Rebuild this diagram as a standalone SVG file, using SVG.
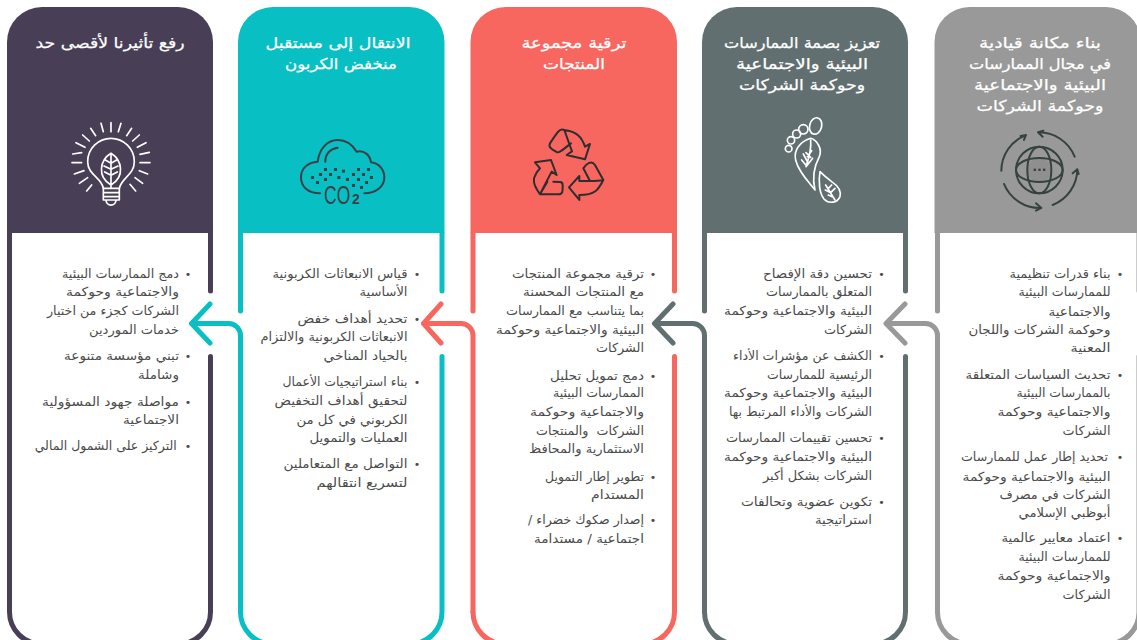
<svg xmlns="http://www.w3.org/2000/svg" width="1137" height="640" viewBox="0 0 1137 640">
<style>
text{font-family:"DejaVu Sans","Noto Sans",sans-serif;direction:rtl;unicode-bidi:embed}
.h{font-size:15px;fill:#fff;stroke:#fff;stroke-width:.25;text-anchor:middle;font-weight:400}
.b{font-size:12.5px;fill:#4b4b4b;text-anchor:start}
.d{font-size:11px;fill:#4b4b4b;text-anchor:middle}
.e{fill:none;stroke-width:5;stroke-linecap:round;stroke-linejoin:round}
.i{fill:none;stroke-width:6;stroke-linecap:round;stroke-linejoin:round}
</style>
<rect width="1137" height="640" fill="#fff"/>

<g id="card-1">
<path d="M934.5 233V42A35 35 0 0 1 969.5 7H1106A35 35 0 0 1 1141 42V233Z" fill="#999"/>
<path class="e" stroke="#999" d="M937.5 233V311M1139 233V291M1139 356.5V612A32 32 0 0 1 1107 644H969.5A32 32 0 0 1 937.5 612"/>
<text class="h" x="1040" y="48" textLength="122" lengthAdjust="spacingAndGlyphs">بناء مكانة قيادية</text>
<text class="h" x="1040" y="69" textLength="142" lengthAdjust="spacingAndGlyphs">في مجال الممارسات</text>
<text class="h" x="1040" y="90" textLength="132" lengthAdjust="spacingAndGlyphs">البيئية والاجتماعية</text>
<text class="h" x="1040" y="111" textLength="127" lengthAdjust="spacingAndGlyphs">وحوكمة الشركات</text>
<g transform="translate(930 0) scale(.3333)" stroke="#36423f" class="i">
<ellipse cx="328" cy="510" rx="36" ry="36" fill="#8f8f8f" stroke="none"/>
<circle cx="328" cy="510" r="70"/>
<ellipse cx="328" cy="510" rx="36" ry="70"/>
<ellipse cx="328" cy="510" rx="70" ry="36"/>
<path d="M214 512A116 116 0 0 1 288 405M272 408L288 405L282 420M324 397A116 116 0 0 1 434 470M324 397L340 392M324 397L338 410M442 508A116 116 0 0 1 368 615M442 508L428 520M442 508L446 522M334 624A116 116 0 0 1 222 552M334 624L318 632M334 624L318 610"/>
<g fill="#36423f" stroke="none"><rect x="311" y="506" width="7" height="7"/><rect x="325" y="506" width="7" height="7"/><rect x="339" y="506" width="7" height="7"/></g>
</g>
<text class="d" x="1120" y="278">•</text><text class="d" x="1120" y="379">•</text><text class="d" x="1120" y="461">•</text><text class="d" x="1120" y="542">•</text>
<text class="b" x="1110.5" y="278" textLength="101" lengthAdjust="spacingAndGlyphs">بناء قدرات تنظيمية</text>
<text class="b" x="1110.5" y="296" textLength="92" lengthAdjust="spacingAndGlyphs">للممارسات البيئية</text>
<text class="b" x="1110.5" y="315.5" textLength="62" lengthAdjust="spacingAndGlyphs">والاجتماعية</text>
<text class="b" x="1110.5" y="334" textLength="142" lengthAdjust="spacingAndGlyphs">وحوكمة الشركات واللجان</text>
<text class="b" x="1110.5" y="352" textLength="40" lengthAdjust="spacingAndGlyphs">المعنية</text>
<text class="b" x="1110.5" y="379" textLength="145" lengthAdjust="spacingAndGlyphs">تحديث السياسات المتعلقة</text>
<text class="b" x="1110.5" y="397" textLength="94" lengthAdjust="spacingAndGlyphs">بالممارسات البيئية</text>
<text class="b" x="1110.5" y="416" textLength="113" lengthAdjust="spacingAndGlyphs">والاجتماعية وحوكمة</text>
<text class="b" x="1110.5" y="435" textLength="48" lengthAdjust="spacingAndGlyphs">الشركات</text>
<text class="b" x="1108" y="461" textLength="147" lengthAdjust="spacingAndGlyphs">تحديد إطار عمل للممارسات</text>
<text class="b" x="1110.5" y="481" textLength="148" lengthAdjust="spacingAndGlyphs">البيئية والاجتماعية وحوكمة</text>
<text class="b" x="1110.5" y="499" textLength="111" lengthAdjust="spacingAndGlyphs">الشركات في مصرف</text>
<text class="b" x="1110.5" y="517" textLength="92" lengthAdjust="spacingAndGlyphs">أبوظبي الإسلامي</text>
<text class="b" x="1110.5" y="542" textLength="109" lengthAdjust="spacingAndGlyphs">اعتماد معايير عالمية</text>
<text class="b" x="1110.5" y="561" textLength="92" lengthAdjust="spacingAndGlyphs">للممارسات البيئية</text>
<text class="b" x="1110.5" y="580" textLength="113" lengthAdjust="spacingAndGlyphs">والاجتماعية وحوكمة</text>
<text class="b" x="1110.5" y="599" textLength="48" lengthAdjust="spacingAndGlyphs">الشركات</text>
</g>

<g id="card-2">
<path d="M702 233V42A35 35 0 0 1 737 7H873A35 35 0 0 1 908 42V233Z" fill="#616f70"/>
<path class="e" stroke="#616f70" d="M704.5 233V311M905.5 233V291M905.5 356.5V612A32 32 0 0 1 873.5 644H736.5A32 32 0 0 1 704.5 612"/>
<text class="h" x="802" y="48" textLength="156" lengthAdjust="spacingAndGlyphs">تعزيز بصمة الممارسات</text>
<text class="h" x="802" y="69" textLength="132" lengthAdjust="spacingAndGlyphs">البيئية والاجتماعية</text>
<text class="h" x="802" y="90" textLength="126" lengthAdjust="spacingAndGlyphs">وحوكمة الشركات</text>
<g transform="translate(700 0) scale(.3333)" stroke="#fff" class="i" style="stroke-width:5">
<ellipse cx="347" cy="378" rx="18" ry="25" transform="rotate(15 347 378)"/>
<circle cx="310" cy="388" r="14"/><circle cx="290" cy="402" r="12"/><circle cx="273" cy="421" r="11"/><circle cx="266" cy="446" r="10"/>
<path d="M332 415C300 425 280 450 287 480C295 515 325 545 345 570C335 530 345 495 358 470C368 445 350 420 332 415Z"/>
<path d="M332 420C335 450 325 480 318 500M318 458L332 472M310 462L325 490M335 452L322 470M305 480L320 498M338 475L320 498"/>
<path d="M360 515C355 545 358 580 372 597C385 612 412 610 420 590C425 570 410 555 395 545C382 535 370 525 360 515Z"/>
<path d="M377 555L405 600M385 565L395 555M392 578L405 565M376 570L392 578M385 585L400 592"/>
</g>
<text class="d" x="881.5" y="278">•</text><text class="d" x="881.5" y="360">•</text><text class="d" x="881.5" y="442">•</text><text class="d" x="881.5" y="506">•</text>
<text class="b" x="872" y="278" textLength="109" lengthAdjust="spacingAndGlyphs">تحسين دقة الإفصاح</text>
<text class="b" x="872" y="296" textLength="106" lengthAdjust="spacingAndGlyphs">المتعلق بالممارسات</text>
<text class="b" x="872" y="315" textLength="148" lengthAdjust="spacingAndGlyphs">البيئية والاجتماعية وحوكمة</text>
<text class="b" x="872" y="334" textLength="48" lengthAdjust="spacingAndGlyphs">الشركات</text>
<text class="b" x="872" y="360" textLength="139" lengthAdjust="spacingAndGlyphs">الكشف عن مؤشرات الأداء</text>
<text class="b" x="872" y="379" textLength="105" lengthAdjust="spacingAndGlyphs">الرئيسية للممارسات</text>
<text class="b" x="872" y="397" textLength="148" lengthAdjust="spacingAndGlyphs">البيئية والاجتماعية وحوكمة</text>
<text class="b" x="872" y="416" textLength="143" lengthAdjust="spacingAndGlyphs">الشركات والأداء المرتبط بها</text>
<text class="b" x="872" y="442" textLength="146" lengthAdjust="spacingAndGlyphs">تحسين تقييمات الممارسات</text>
<text class="b" x="872" y="461" textLength="148" lengthAdjust="spacingAndGlyphs">البيئية والاجتماعية وحوكمة</text>
<text class="b" x="872" y="480" textLength="109" lengthAdjust="spacingAndGlyphs">الشركات بشكل أكبر</text>
<text class="b" x="872" y="506" textLength="131" lengthAdjust="spacingAndGlyphs">تكوين عضوية وتحالفات</text>
<text class="b" x="872" y="524" textLength="57" lengthAdjust="spacingAndGlyphs">استراتيجية</text>
</g>

<g id="card-3">
<path d="M470.5 233V42A35 35 0 0 1 505.5 7H642A35 35 0 0 1 677 42V233Z" fill="#f76760"/>
<path class="e" stroke="#f76760" d="M473 233V311M674.5 233V291M674.5 356.5V612A32 32 0 0 1 642.5 644H505A32 32 0 0 1 473 612"/>
<text class="h" x="574" y="48" textLength="105" lengthAdjust="spacingAndGlyphs">ترقية مجموعة</text>
<text class="h" x="574" y="69" textLength="62" lengthAdjust="spacingAndGlyphs">المنتجات</text>
<g transform="translate(470 100) scale(.3333)" stroke="#2e2e2e" class="i">
<path d="M283 90C270 85 265 92 240 130C235 140 240 145 262 157C270 160 295 135 303 130M283 90L306 154L290 165L345 178L360 132L345 140C335 110 320 95 283 90Z"/>
<path d="M340 205C350 190 365 180 375 195L400 240C385 243 375 243 360 243L340 205ZM400 240C385 270 375 285 328 285V300L297 262L328 228V243H360"/>
<path d="M210 283H265C280 283 278 270 278 255C278 245 270 245 250 245M232 245L210 283C195 260 190 250 192 235C195 225 200 215 210 205L195 187L243 180L260 225L245 215L210 283"/>
</g>
<text class="d" x="653" y="278">•</text><text class="d" x="653" y="380">•</text><text class="d" x="653" y="481">•</text><text class="d" x="653" y="524">•</text>
<text class="b" x="644" y="278" textLength="132" lengthAdjust="spacingAndGlyphs">ترقية مجموعة المنتجات</text>
<text class="b" x="644" y="296" textLength="121" lengthAdjust="spacingAndGlyphs">مع المنتجات المحسنة</text>
<text class="b" x="644" y="315" textLength="138" lengthAdjust="spacingAndGlyphs">بما يتناسب مع الممارسات</text>
<text class="b" x="644" y="334" textLength="148" lengthAdjust="spacingAndGlyphs">البيئية والاجتماعية وحوكمة</text>
<text class="b" x="644" y="352" textLength="48" lengthAdjust="spacingAndGlyphs">الشركات</text>
<text class="b" x="644" y="380" textLength="94" lengthAdjust="spacingAndGlyphs">دمج تمويل تحليل</text>
<text class="b" x="644" y="397" textLength="91" lengthAdjust="spacingAndGlyphs">الممارسات البيئية</text>
<text class="b" x="644" y="416" textLength="114" lengthAdjust="spacingAndGlyphs">والاجتماعية وحوكمة</text>
<text class="b" x="644" y="435" textLength="108" lengthAdjust="spacingAndGlyphs" xml:space="preserve">الشركات  والمنتجات</text>
<text class="b" x="644" y="453" textLength="115" lengthAdjust="spacingAndGlyphs">الاستثمارية والمحافظ</text>
<text class="b" x="644" y="481" textLength="99" lengthAdjust="spacingAndGlyphs">تطوير إطار التمويل</text>
<text class="b" x="644" y="499" textLength="53" lengthAdjust="spacingAndGlyphs">المستدام</text>
<text class="b" x="644" y="524" textLength="116" lengthAdjust="spacingAndGlyphs">إصدار صكوك خضراء /</text>
<text class="b" x="644" y="543" textLength="110" lengthAdjust="spacingAndGlyphs">اجتماعية / مستدامة</text>
</g>

<g id="card-4">
<path d="M238 233V42A35 35 0 0 1 273 7H409.5A35 35 0 0 1 444.5 42V233Z" fill="#08bfc3"/>
<path class="e" stroke="#08bfc3" d="M240.5 233V311M442 233V291M442 356.5V612A32 32 0 0 1 410 644H272.5A32 32 0 0 1 240.5 612"/>
<text class="h" x="338" y="48" textLength="145" lengthAdjust="spacingAndGlyphs">الانتقال إلى مستقبل</text>
<text class="h" x="341" y="69" textLength="112" lengthAdjust="spacingAndGlyphs">منخفض الكربون</text>
<g transform="translate(236 100) scale(.3333)">
<path class="i" stroke="#3f3f48" d="M252 280C215 280 195 260 195 232C195 205 215 187 245 185C250 145 275 120 305 120C330 120 350 135 362 155C385 150 402 165 405 187C430 190 445 210 445 232C445 260 420 280 385 280M268 185C268 160 285 145 305 143"/>
<g fill="#3f3f48"><rect x="264" y="204" width="9" height="9"/><rect x="294" y="204" width="9" height="9"/><rect x="318" y="209" width="9" height="9"/><rect x="363" y="204" width="9" height="9"/><rect x="393" y="204" width="9" height="9"/><rect x="249" y="219" width="9" height="9"/><rect x="279" y="219" width="9" height="9"/><rect x="348" y="219" width="9" height="9"/><rect x="378" y="219" width="9" height="9"/><rect x="225" y="228" width="9" height="9"/><rect x="304" y="228" width="9" height="9"/><rect x="402" y="228" width="9" height="9"/><rect x="264" y="234" width="9" height="9"/><rect x="330" y="234" width="9" height="9"/><rect x="363" y="234" width="9" height="9"/><rect x="240" y="243" width="9" height="9"/><rect x="387" y="243" width="9" height="9"/><rect x="348" y="252" width="9" height="9"/><rect x="372" y="258" width="9" height="9"/></g>
</g>
<text transform="translate(324 204) scale(.7 1)" x="0" y="0" style="font-family:'Liberation Sans',sans-serif;direction:ltr;font-size:25px;fill:#3f3f48">CO</text>
<text x="352" y="204" style="font-family:'Liberation Sans',sans-serif;direction:ltr;font-size:14px;font-weight:700;fill:#3f3f48">2</text>
<text class="d" x="417" y="278">•</text><text class="d" x="417" y="323">•</text><text class="d" x="417" y="386">•</text><text class="d" x="417" y="468">•</text>
<text class="b" x="407.5" y="278" textLength="135" lengthAdjust="spacingAndGlyphs">قياس الانبعاثات الكربونية</text>
<text class="b" x="407.5" y="296" textLength="48" lengthAdjust="spacingAndGlyphs">الأساسية</text>
<text class="b" x="407.5" y="323" textLength="110" lengthAdjust="spacingAndGlyphs">تحديد أهداف خفض</text>
<text class="b" x="407.5" y="341" textLength="147" lengthAdjust="spacingAndGlyphs">الانبعاثات الكربونية والالتزام</text>
<text class="b" x="407.5" y="360" textLength="84" lengthAdjust="spacingAndGlyphs">بالحياد المناخي</text>
<text class="b" x="407.5" y="386" textLength="125" lengthAdjust="spacingAndGlyphs">بناء استراتيجيات الأعمال</text>
<text class="b" x="407.5" y="405" textLength="133" lengthAdjust="spacingAndGlyphs">لتحقيق أهداف التخفيض</text>
<text class="b" x="407.5" y="424" textLength="111" lengthAdjust="spacingAndGlyphs">الكربوني في كل من</text>
<text class="b" x="407.5" y="442" textLength="98" lengthAdjust="spacingAndGlyphs">العمليات والتمويل</text>
<text class="b" x="407.5" y="468" textLength="124" lengthAdjust="spacingAndGlyphs">التواصل مع المتعاملين</text>
<text class="b" x="407.5" y="487" textLength="91" lengthAdjust="spacingAndGlyphs">لتسريع انتقالهم</text>
</g>

<g id="card-5">
<path d="M7 233V42A35 35 0 0 1 42 7H178A35 35 0 0 1 213 42V233Z" fill="#483f56"/>
<path class="e" stroke="#483f56" d="M9.5 233V612M210.5 233V291M210.5 356.5V612A32 32 0 0 1 178.5 644H41.5A32 32 0 0 1 9.5 612"/>
<text class="h" x="110" y="48" textLength="149" lengthAdjust="spacingAndGlyphs">رفع تأثيرنا لأقصى حد</text>
<g transform="translate(0 100) scale(.3333)" stroke="#fff" class="i" style="stroke-width:5">
<path d="M333 68V95M303 70L310 95M363 70L355 95M272 85L287 107M395 85L380 107M248 105L268 123M418 105L398 123M228 128L255 142M438 128L412 142M218 162L245 158M448 157L420 163M216 188H245M450 188H420M223 222L252 212M443 222L418 212M238 250L263 233M428 250L405 233M260 273L275 255M407 273L390 253"/>
<path d="M310 265C305 232 263 225 263 185A70 70 0 1 1 403 185C403 225 365 232 358 265"/>
<path d="M310 265H358V300H310ZM310 278H358M310 290H358M318 302C322 320 344 320 348 302"/>
<path d="M333 160C300 180 290 230 333 255C376 230 366 180 333 160ZM333 165V265M333 190L316 180M333 190L350 180M333 208L312 198M333 208L354 198M333 226L314 216M333 226L352 216"/>
</g>
<text class="d" x="188" y="278">•</text><text class="d" x="188" y="360">•</text><text class="d" x="188" y="405.5">•</text><text class="d" x="188" y="450">•</text>
<text class="b" x="179" y="278" textLength="117" lengthAdjust="spacingAndGlyphs">دمج الممارسات البيئية</text>
<text class="b" x="179" y="296" textLength="113" lengthAdjust="spacingAndGlyphs">والاجتماعية وحوكمة</text>
<text class="b" x="179" y="315" textLength="132" lengthAdjust="spacingAndGlyphs">الشركات كجزء من اختيار</text>
<text class="b" x="179" y="334" textLength="90" lengthAdjust="spacingAndGlyphs">خدمات الموردين</text>
<text class="b" x="179" y="360" textLength="115" lengthAdjust="spacingAndGlyphs">تبني مؤسسة متنوعة</text>
<text class="b" x="179" y="379" textLength="41" lengthAdjust="spacingAndGlyphs">وشاملة</text>
<text class="b" x="179" y="405.5" textLength="137" lengthAdjust="spacingAndGlyphs">مواصلة جهود المسؤولية</text>
<text class="b" x="179" y="424" textLength="56" lengthAdjust="spacingAndGlyphs">الاجتماعية</text>
<text class="b" x="176.7" y="450" textLength="142" lengthAdjust="spacingAndGlyphs">التركيز على الشمول المالي</text>
</g>

<g id="connectors">
<path class="e" stroke="#999" d="M937.5 612V335.5A12 12 0 0 0 925.5 323.5H886M905 304L886 323.5L905 343"/>
<path class="e" stroke="#616f70" d="M704.5 612V335.5A12 12 0 0 0 692.5 323.5H654.5M673 304L654.5 323.5L673 343"/>
<path class="e" stroke="#f76760" d="M473 612V335.5A12 12 0 0 0 461 323.5H423.5M441 304L423.5 323.5L441 343"/>
<path class="e" stroke="#08bfc3" d="M240.5 612V335.5A12 12 0 0 0 228.5 323.5H191.5M210 304L191.5 323.5L210 343"/>
</g>
</svg>
